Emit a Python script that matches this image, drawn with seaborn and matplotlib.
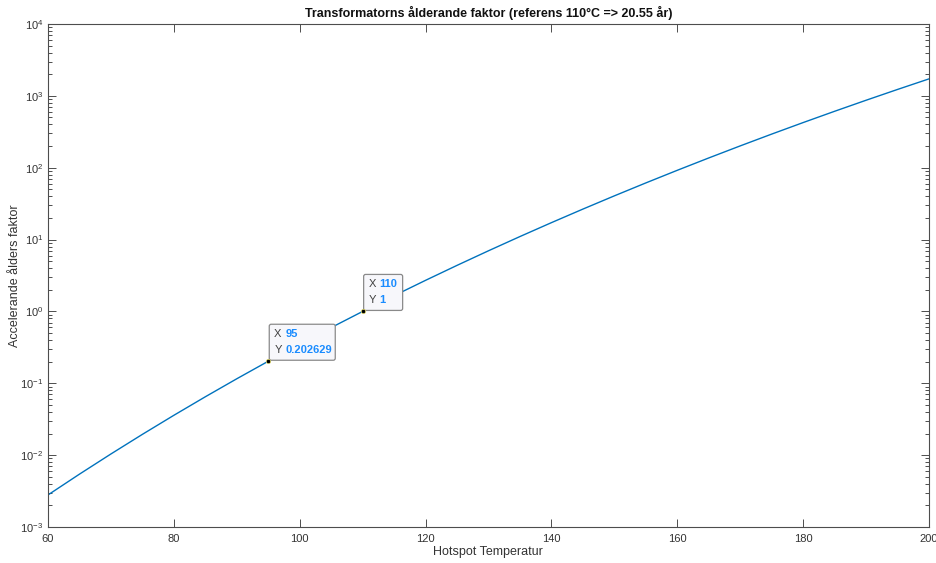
import matplotlib
matplotlib.use("Agg")
import matplotlib.pyplot as plt
import matplotlib.transforms as mtransforms
from matplotlib.patches import FancyBboxPatch
import seaborn as sns
import pandas as pd

# Hotspot temperature (°C) and relative ageing acceleration factor
temperature = [60, 65, 70, 75, 80, 85, 90, 95, 100, 105, 110, 115, 120, 125, 130,
               135, 140, 145, 150, 155, 160, 165, 170, 175, 180, 185, 190, 195, 200]
aging_factor = [0.002793, 0.005439, 0.010386, 0.019469, 0.035849, 0.064898, 0.115576,
                0.202629, 0.34994, 0.59569, 1.0, 1.65651, 2.70890, 4.37560, 6.98420,
                11.0208, 17.1995, 26.5576, 40.589, 61.421, 92.061, 136.717, 201.23,
                293.64, 424.92, 609.96, 868.78, 1228.1, 1723.3]

# Data tips shown on the curve
tip_x = [95, 110]
tip_y = [0.202629, 1]
tip_labels = ["0.202629", "1"]

x_ticks = [60, 80, 100, 120, 140, 160, 180, 200]

df = pd.DataFrame({"Hotspot Temperatur": temperature,
                   "Accelerande ålders faktor": aging_factor})

sns.set_style("white")
plt.rcParams["font.family"] = ["Liberation Sans", "DejaVu Sans"]
plt.rcParams["axes.unicode_minus"] = False

DPI = 100
fig = plt.figure(figsize=(9.36, 5.63), dpi=DPI)
ax = fig.add_axes([48 / 936, 1 - 527 / 563, (929 - 48) / 936, (527 - 24) / 563])

sns.lineplot(data=df, x="Hotspot Temperatur", y="Accelerande ålders faktor",
             ax=ax, color="#0072BD", linewidth=1.0)

ax.set_yscale("log")
ax.set_xlim(60, 200)
ax.set_ylim(1e-3, 1e4)
ax.set_xticks(x_ticks)
ax.set_xticklabels([str(t) for t in x_ticks])

axis_col = "#4d4d4d"
for s in ax.spines.values():
    s.set_color(axis_col)
    s.set_linewidth(0.8)
ax.tick_params(which="both", direction="in", top=True, right=True,
               left=True, bottom=True,
               colors=axis_col, labelcolor="#333333", labelsize=8, width=0.7)
ax.tick_params(which="major", length=6)
ax.tick_params(which="minor", length=3)
ax.tick_params(axis="x", which="minor", top=False, bottom=False)
ax.xaxis.set_tick_params(pad=5)

ax.set_xlabel("Hotspot Temperatur", fontsize=9, color="#333333")
ax.set_ylabel("Accelerande ålders faktor", fontsize=9, color="#333333")
ax.xaxis.set_label_coords((488 - 48) / 881, (527 - 552) / 503)
ax.yaxis.set_label_coords((15 - 48) / 881, 0.5)
ax.xaxis.label.set_va("center")
ax.yaxis.label.set_va("center")
ax.set_title("Transformatorns ålderande faktor (referens 110°C => 20.55 år)",
             fontsize=9, fontweight="bold", color="#111111", pad=5)

# Data tips: marker plus a boxed X/Y readout anchored at the point
def px(dx, dy):
    return mtransforms.ScaledTranslation(dx / DPI, dy / DPI, fig.dpi_scale_trans)

ax.scatter(tip_x, tip_y, s=10, color="black", edgecolor="#e8e070",
           linewidth=0.5, zorder=8)
box_widths = [66, 39]
for xv, yv, lab, w in zip(tip_x, tip_y, tip_labels, box_widths):
    xd, yd = ax.transData.transform((xv, yv))
    box = FancyBboxPatch((xd + 1, yd + 1), w, 36,
                         boxstyle="round,pad=0,rounding_size=2",
                         transform=mtransforms.IdentityTransform(),
                         facecolor="#f7f7fb", edgecolor="#8a8a8a", linewidth=0.9,
                         zorder=6, clip_on=False)
    ax.add_patch(box)
    for line_y, key, val in [(27, "X", str(xv)), (11, "Y", lab)]:
        ax.text(xv, yv, key, transform=ax.transData + px(6, line_y), fontsize=8,
                color="#404040", va="center", ha="left", zorder=7)
        ax.text(xv, yv, val, transform=ax.transData + px(17, line_y), fontsize=8,
                color="#1a8cff", fontweight="bold", va="center", ha="left", zorder=7)

fig.savefig("out.png", dpi=DPI)
